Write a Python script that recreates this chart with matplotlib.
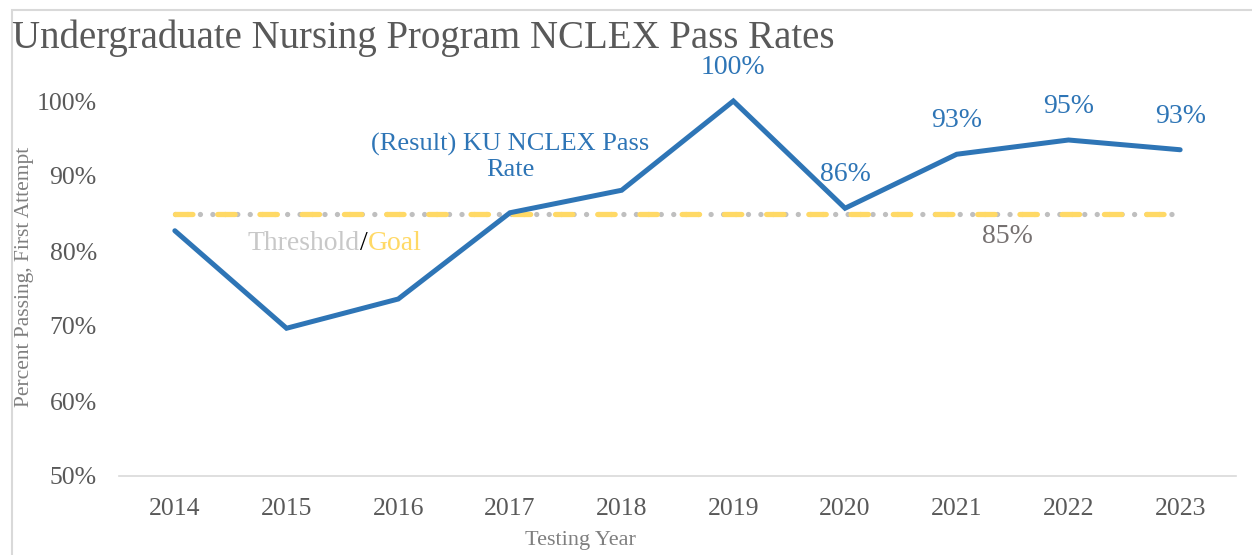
import matplotlib.pyplot as plt
from matplotlib.patches import Rectangle

years = ["2014", "2015", "2016", "2017", "2018", "2019", "2020", "2021", "2022", "2023"]
pass_rate = [0.827, 0.697, 0.736, 0.851, 0.881, 1.00, 0.857, 0.929, 0.948, 0.935]
labels = ["", "", "", "", "", "100%", "86%", "93%", "95%", "93%"]
threshold = [0.85] * len(years)

BLUE = "#2E75B6"
YELLOW = "#FFD966"
GRAY = "#BFBFBF"
TXT = "#595959"

plt.rcParams["font.family"] = ["Liberation Serif", "DejaVu Serif"]

fig = plt.figure(figsize=(12.52, 5.55), dpi=100)
ax = fig.add_axes([119 / 1252, 1 - 476 / 555, (1236 - 119) / 1252, (476 - 101) / 555])

x = list(range(len(years)))

# threshold (gray dots) with goal (yellow dashes) on top
ax.plot(x, threshold, color=GRAY, lw=3.8, linestyle=(0, (0.01, 2.35)),
        dash_capstyle="round", zorder=2)
ax.plot(x, threshold, color=YELLOW, lw=3.8, linestyle=(0, (3.3, 4.7)),
        dash_capstyle="round", zorder=3)

ax.plot(x, pass_rate, color=BLUE, lw=3.6, solid_capstyle="round",
        solid_joinstyle="miter", clip_on=False, zorder=4)

for xi, yi, lab in zip(x, pass_rate, labels):
    if lab:
        ax.annotate(lab, (xi, yi), xytext=(0, 24), textcoords="offset points",
                    ha="center", va="center", color=BLUE, fontsize=20)

ax.text(3.0, 0.925, "(Result) KU NCLEX Pass\nRate", color=BLUE, fontsize=19,
        ha="center", va="center", linespacing=1.2)
ax.text(7.45, 0.819, "85%", color="#767171", fontsize=20, ha="center", va="center")

t1 = ax.text(0.654, 0.801, "Threshold", color="#C8C8C8", fontsize=20, va="baseline")
t2 = ax.annotate("/", xy=(1, 0), xycoords=t1, va="bottom", color="black", fontsize=20)
ax.annotate("Goal", xy=(1, 0), xycoords=t2, va="bottom", color=YELLOW, fontsize=20)

ax.set_xlim(-0.5, len(years) - 0.5)
ax.set_ylim(0.5, 1.0)
ax.set_xticks(x)
ax.set_xticklabels(years)
ax.set_yticks([0.5, 0.6, 0.7, 0.8, 0.9, 1.0])
ax.set_yticklabels(["50%", "60%", "70%", "80%", "90%", "100%"])
ax.tick_params(length=0, labelsize=18.5, colors=TXT)
ax.tick_params(axis="x", pad=16)
ax.tick_params(axis="y", pad=16)
for side in ["top", "right", "left"]:
    ax.spines[side].set_visible(False)
ax.spines["bottom"].set_color("#D9D9D9")
ax.spines["bottom"].set_linewidth(1.2)

fig.text(25 / 1252, 1 - 277 / 555, "Percent Passing, First Attempt", rotation=90,
         ha="center", va="center", color="#7F7F7F", fontsize=15.5)
fig.text(580 / 1252, 1 - 541 / 555, "Testing Year", ha="center", va="center",
         color="#7F7F7F", fontsize=16)
fig.text(12 / 1252, 1 - 38 / 555, "Undergraduate Nursing Program NCLEX Pass Rates",
         ha="left", va="center", color=TXT, fontsize=28)

fig.patches.append(Rectangle((12 / 1252, -0.05), 1.1, 1.05 - 10 / 555, fill=False,
                             edgecolor="#D9D9D9", lw=1.5, transform=fig.transFigure))

fig.savefig("out.png", dpi=100)
